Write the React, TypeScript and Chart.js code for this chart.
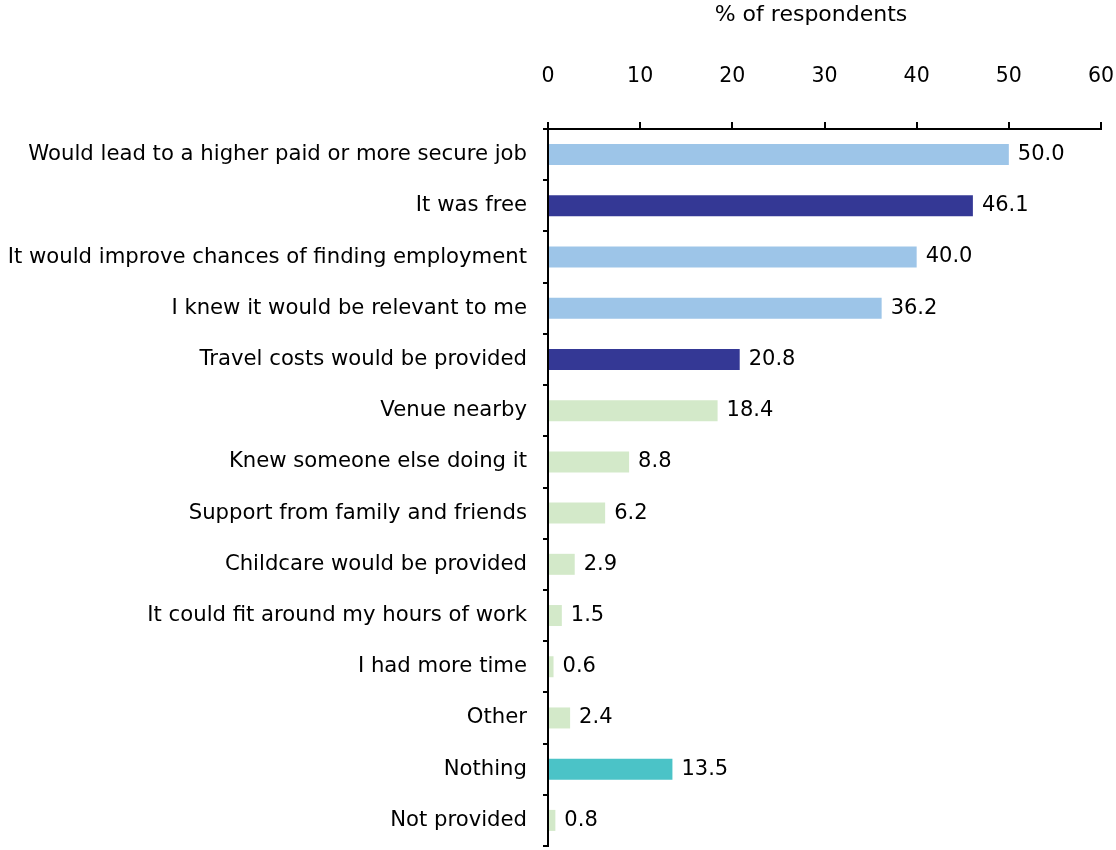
import React, { useEffect, useRef } from 'react';
import { Chart, registerables } from 'chart.js';

Chart.register(...registerables);

const categories = [
  'Would lead to a higher paid or more secure job',
  'It was free',
  'It would improve chances of finding employment',
  'I knew it would be relevant to me',
  'Travel costs would be provided',
  'Venue nearby',
  'Knew someone else doing it',
  'Support from family and friends',
  'Childcare would be provided',
  'It could fit around my hours of work',
  'I had more time',
  'Other',
  'Nothing',
  'Not provided',
];

const values = [50.0, 46.1, 40.0, 36.2, 20.8, 18.4, 8.8, 6.2, 2.9, 1.5, 0.6, 2.4, 13.5, 0.8];

const groups = ['A', 'B', 'A', 'A', 'B', 'C', 'C', 'C', 'C', 'C', 'C', 'C', 'D', 'C'];

const xTicks = [0, 10, 20, 30, 40, 50, 60];

const axisTitle = '% of respondents';

const palette: Record<string, string> = {
  A: '#9DC5E8',
  B: '#343895',
  C: '#D3E9C9',
  D: '#4BC3C7',
};

const FONT = '"DejaVu Sans", Verdana, sans-serif';

const valueLabelPlugin = {
  id: 'valueLabels',
  afterDatasetsDraw(chart: any) {
    const ctx = chart.ctx;
    const meta = chart.getDatasetMeta(0);
    ctx.save();
    ctx.font = `21px ${FONT}`;
    ctx.fillStyle = '#000';
    ctx.textAlign = 'left';
    ctx.textBaseline = 'middle';
    meta.data.forEach((bar: any, i: number) => {
      ctx.fillText(values[i].toFixed(1), bar.x + 9, bar.y);
    });
    ctx.restore();
  },
};

const titlePlugin = {
  id: 'topTitle',
  afterDraw(chart: any) {
    const ctx = chart.ctx;
    ctx.save();
    ctx.font = `22px ${FONT}`;
    ctx.fillStyle = '#000';
    ctx.textAlign = 'center';
    ctx.textBaseline = 'middle';
    ctx.fillText(axisTitle, 811, 15);
    ctx.restore();
  },
};

export default function App() {
  const canvasRef = useRef<HTMLCanvasElement | null>(null);

  useEffect(() => {
    document.body.style.margin = '0';
    const canvas = canvasRef.current;
    if (!canvas) return;
    const chart = new Chart(canvas, {
      type: 'bar',
      data: {
        labels: categories,
        datasets: [
          {
            data: values,
            backgroundColor: groups.map((g) => palette[g]),
            borderWidth: 0,
            categoryPercentage: 1,
            barPercentage: 0.41,
          },
        ],
      },
      options: {
        indexAxis: 'y',
        animation: false,
        responsive: true,
        maintainAspectRatio: false,
        layout: { padding: { left: 0, right: 15, top: 0, bottom: 4 } },
        plugins: {
          legend: { display: false },
          tooltip: { enabled: false },
          title: { display: false },
        },
        scales: {
          x: {
            position: 'top',
            min: 0,
            max: 60,
            afterBuildTicks(scale: any) {
              scale.ticks = xTicks.map((v) => ({ value: v }));
            },
            afterFit(scale: any) {
              scale.height = 129;
              scale.paddingLeft = 0;
              scale.paddingRight = 0;
            },
            ticks: {
              color: '#000',
              font: { family: FONT, size: 20.5 },
              padding: 33,
              maxRotation: 0,
            },
            grid: {
              drawOnChartArea: false,
              drawTicks: true,
              tickLength: 7,
              color: '#000',
              lineWidth: 2,
            },
            border: { display: true, color: '#000', width: 2 },
          },
          y: {
            afterFit(scale: any) {
              scale.width = 548;
              scale.paddingTop = 0;
              scale.paddingBottom = 0;
            },
            ticks: {
              color: '#000',
              font: { family: FONT, size: 21.2 },
              padding: 16,
              autoSkip: false,
            },
            grid: {
              offset: true,
              drawOnChartArea: false,
              drawTicks: true,
              tickLength: 5,
              color: '#000',
              lineWidth: 2,
            },
            border: { display: true, color: '#000', width: 2 },
          },
        },
      },
      plugins: [valueLabelPlugin, titlePlugin],
    });
    return () => chart.destroy();
  }, []);

  return (
    <div style={{ position: 'relative', width: '1116px', height: '850px' }}>
      <canvas ref={canvasRef} />
    </div>
  );
}
